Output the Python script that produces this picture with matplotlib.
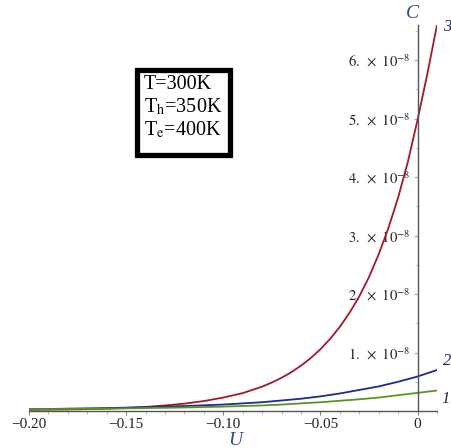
import matplotlib
matplotlib.use("Agg")
import matplotlib.pyplot as plt
from matplotlib.patches import Rectangle
from matplotlib.ticker import MultipleLocator, FixedLocator, FixedFormatter

plt.rcParams['font.family'] = ['Liberation Serif', 'DejaVu Serif']
plt.rcParams['mathtext.fontset'] = 'stix'

# Bias voltage U and capacitance C (in units of 1e-8)
u_red = [-0.20, -0.19, -0.18, -0.17, -0.16, -0.15, -0.14, -0.13, -0.12, -0.11,
         -0.10, -0.09, -0.08, -0.075, -0.07, -0.065, -0.06, -0.055, -0.05, -0.045,
         -0.04, -0.035, -0.03, -0.025, -0.02, -0.015, -0.01, -0.005, 0.0, 0.005, 0.01]
c_red = [0.020, 0.022, 0.026, 0.032, 0.040, 0.052, 0.070, 0.094, 0.126, 0.170,
         0.230, 0.306, 0.417, 0.487, 0.568, 0.663, 0.775, 0.905, 1.056, 1.233,
         1.44, 1.68, 1.96, 2.29, 2.68, 3.13, 3.65, 4.26, 4.98, 5.76, 6.60]

u_blue = [-0.20, -0.18, -0.16, -0.14, -0.12, -0.10, -0.09, -0.08, -0.07, -0.06,
          -0.05, -0.04, -0.03, -0.02, -0.01, 0.0, 0.01]
c_blue = [0.03, 0.04, 0.05, 0.065, 0.085, 0.11, 0.13, 0.15, 0.18, 0.21,
          0.25, 0.30, 0.36, 0.42, 0.50, 0.59, 0.70]

u_green = [-0.20, -0.18, -0.16, -0.14, -0.12, -0.10, -0.09, -0.08, -0.07, -0.06,
           -0.05, -0.04, -0.03, -0.02, -0.01, 0.0, 0.01]
c_green = [0.03, 0.035, 0.04, 0.05, 0.06, 0.075, 0.085, 0.095, 0.11, 0.13,
           0.15, 0.175, 0.20, 0.23, 0.27, 0.31, 0.35]

x_ticks = [-0.20, -0.15, -0.10, -0.05, 0.0]
x_tick_labels = ['\u22120.20', '\u22120.15', '\u22120.10', '\u22120.05', '0']
y_ticks = [1, 2, 3, 4, 5, 6]
y_tick_labels = [r'$%d.\ \times\ 10^{-8}$' % v for v in y_ticks]

scale = 1e-8

fig = plt.figure(figsize=(4.52, 4.48), dpi=100)
W, H = 452, 448
ax = fig.add_axes([29 / W, (H - 411) / H, (437 - 29) / W, 386 / H])

ax.plot(u_red, [v * scale for v in c_red], color='#a3172e', lw=1.3)
ax.plot(u_blue, [v * scale for v in c_blue], color='#1f2a92', lw=1.3)
ax.plot(u_green, [v * scale for v in c_green], color='#5b9321', lw=1.3)

ax.set_xlim(-0.20, 0.01)
ax.set_ylim(0, 6.6e-8)

for side in ('top', 'right'):
    ax.spines[side].set_visible(False)
ax.spines['left'].set_position(('data', 0))
ax.spines['bottom'].set_position(('data', 0))
for side in ('left', 'bottom'):
    ax.spines[side].set_color('#555555')
    ax.spines[side].set_linewidth(1.0)

ax.xaxis.set_major_locator(FixedLocator(x_ticks))
ax.xaxis.set_major_formatter(FixedFormatter(x_tick_labels))
ax.xaxis.set_minor_locator(MultipleLocator(0.01))
ax.yaxis.set_major_locator(FixedLocator([v * scale for v in y_ticks]))
ax.yaxis.set_major_formatter(FixedFormatter(y_tick_labels))
ax.yaxis.set_minor_locator(MultipleLocator(0.5e-8))

ax.tick_params(axis='x', which='major', direction='out', length=3, width=0.8,
               color='#888888', labelsize=11, pad=2, labelcolor='#222222')
ax.tick_params(axis='x', which='minor', direction='out', length=2, width=0.6,
               color='#aaaaaa')
ax.tick_params(axis='y', which='major', direction='out', length=3, width=0.8,
               color='#aaaaaa', labelsize=10.5, pad=2, labelcolor='#222222')
ax.tick_params(axis='y', which='minor', direction='out', length=2, width=0.6,
               color='#bbbbbb')

# axis titles
fig.text(235 / W, 1 - 440 / H, 'U', fontsize=14, style='italic',
         color='#2b4a80', ha='center', va='center')
fig.text(412 / W, 1 - 14 / H, 'C', fontsize=14, style='italic',
         color='#2b4a80', ha='center', va='center')

# curve numbers
for label, (px, py) in zip(['3', '2', '1'], [(447, 27), (447, 361), (446, 399)]):
    fig.text(px / W, 1 - py / H, label, fontsize=12, style='italic',
             color='#1c2450', ha='center', va='center')

# parameter box
fig.add_artist(Rectangle((137 / W, 1 - 155 / H), 93 / W, 85 / H,
                         transform=fig.transFigure, fc='white', ec='black',
                         lw=3.8))
for text, base in zip(['T=300K', r'T$_{\mathrm{h}}$=350K', r'T$_{\mathrm{e}}$=400K'],
                      [89, 112, 135]):
    fig.text(144 / W, 1 - base / H, text, fontsize=14.5, color='black',
             ha='left', va='baseline')

fig.savefig('out.png', dpi=100)
